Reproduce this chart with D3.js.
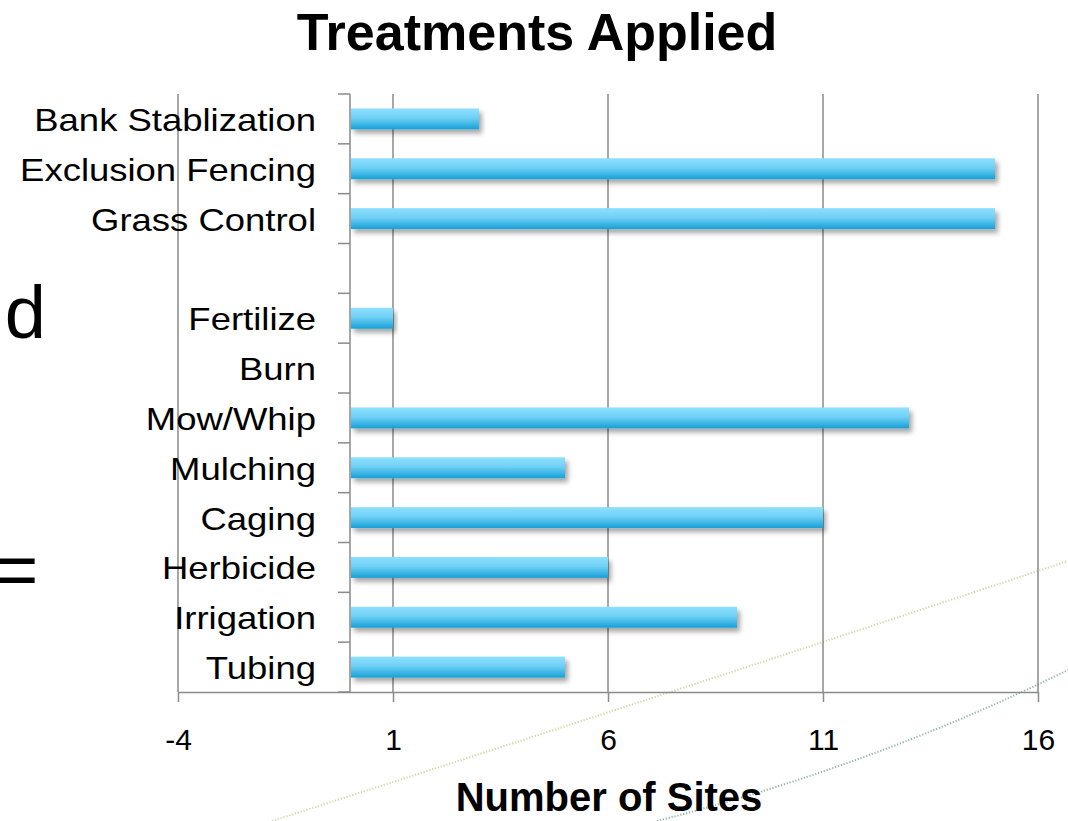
<!DOCTYPE html>
<html>
<head>
<meta charset="utf-8">
<script src="https://cdn.jsdelivr.net/npm/d3@7"></script>
<style>
  html, body { margin: 0; padding: 0; background: #fff; }
  svg { display: block; font-family: "Liberation Sans", Arial, sans-serif; }
</style>
</head>
<body>
<div id="chart"></div>
<script>
// categories top to bottom ("" is an empty slot in the original)
const categories = ["Bank Stablization", "Exclusion Fencing", "Grass Control", "",
    "Fertilize", "Burn", "Mow/Whip", "Mulching", "Caging", "Herbicide", "Irrigation", "Tubing"];
const sites = [3, 15, 15, 0, 1, 0, 13, 5, 11, 6, 9, 5];
const xTicks = [-4, 1, 6, 11, 16];

const width = 1068, height = 821;
const plot = {left: 178, right: 1038, top: 94, bottom: 692};

const svg = d3.select("#chart").append("svg")
    .attr("width", width)
    .attr("height", height);

// gradient + shadow for the bars
const defs = svg.append("defs");
const grad = defs.append("linearGradient")
    .attr("id", "barGrad")
    .attr("x1", 0).attr("y1", 0).attr("x2", 0).attr("y2", 1);
grad.append("stop").attr("offset", "0%").attr("stop-color", "#8fe0ff");
grad.append("stop").attr("offset", "45%").attr("stop-color", "#6fd0f6");
grad.append("stop").attr("offset", "100%").attr("stop-color", "#16a0d6");
const shadow = defs.append("filter")
    .attr("id", "shadow")
    .attr("x", "-5%").attr("y", "-50%").attr("width", "115%").attr("height", "220%");
shadow.append("feDropShadow")
    .attr("dx", 3).attr("dy", 4)
    .attr("stdDeviation", 2.5)
    .attr("flood-color", "#000")
    .attr("flood-opacity", 0.35);

// background slide bits peeking through
svg.append("text")
    .attr("x", 46).attr("y", 338)
    .attr("text-anchor", "end")
    .attr("font-size", 74)
    .attr("fill", "#000")
    .text("d");
svg.append("text")
    .attr("x", -6).attr("y", 596)
    .attr("font-size", 76)
    .attr("fill", "#000")
    .text("=");

// decorative dotted swooshes
svg.append("path")
    .attr("d", "M272,821 Q680,690 1068,561")
    .attr("fill", "none")
    .attr("stroke", "#cfd6a6")
    .attr("stroke-width", 2)
    .attr("stroke-dasharray", "1.2,1.8");
svg.append("path")
    .attr("d", "M657,821 Q875,765 1068,670")
    .attr("fill", "none")
    .attr("stroke", "#93b3aa")
    .attr("stroke-width", 2)
    .attr("stroke-dasharray", "1.2,1.8");

// scales
let x = d3.scaleLinear()
    .domain([-4, 16])
    .range([plot.left, plot.right]);

let yAxisScale = d3.scaleBand()
    .domain(categories)
    .range([plot.top, plot.bottom])
    .padding(0);

let y = d3.scaleBand()
    .domain(categories)
    .range([plot.top, plot.bottom])
    .paddingInner(0.58)
    .paddingOuter(0.29);

const gridColor = "#8a8a8a";

// vertical gridlines
svg.append("g")
    .selectAll("line")
    .data(xTicks)
    .join("line")
    .attr("x1", d => x(d)).attr("x2", d => x(d))
    .attr("y1", plot.top).attr("y2", plot.bottom)
    .attr("stroke", gridColor)
    .attr("stroke-width", 1.5);

// x axis
let xAxis = svg.append("g")
    .attr("transform", "translate(0," + plot.bottom + ")")
    .call(d3.axisBottom(x).tickValues(xTicks).tickFormat(d => String(d)).tickSize(10).tickSizeOuter(0));
xAxis.select(".domain").attr("stroke", gridColor).attr("stroke-width", 1.5);
xAxis.selectAll(".tick line").attr("stroke", gridColor).attr("stroke-width", 1.5);
xAxis.selectAll(".tick text")
    .attr("y", 58).attr("dy", 0)
    .attr("font-size", 30)
    .attr("font-family", "Liberation Sans, Arial, sans-serif")
    .attr("fill", "#000");

// y axis line + boundary ticks
const x0 = x(0);
svg.append("line")
    .attr("x1", x0).attr("x2", x0)
    .attr("y1", plot.top).attr("y2", plot.bottom)
    .attr("stroke", gridColor)
    .attr("stroke-width", 1.5);
const bounds = categories.map(d => yAxisScale(d)).concat([plot.bottom]);
svg.append("g")
    .selectAll("line")
    .data(bounds)
    .join("line")
    .attr("x1", x0 - 12).attr("x2", x0)
    .attr("y1", d => d).attr("y2", d => d)
    .attr("stroke", gridColor)
    .attr("stroke-width", 1.5);

// category labels (slightly wide, like the original)
svg.append("g")
    .selectAll("text")
    .data(categories)
    .join("text")
    .attr("transform", d => "translate(316," + (yAxisScale(d) + yAxisScale.bandwidth() / 2 + 12) + ") scale(1.14,1)")
    .attr("text-anchor", "end")
    .attr("font-size", 32)
    .attr("fill", "#000")
    .text(d => d);

// bars
const rows = categories.map((c, i) => ({cat: c, value: sites[i]})).filter(d => d.value > 0);
svg.append("g")
    .selectAll("rect")
    .data(rows)
    .join("rect")
    .attr("x", x0 + 1)
    .attr("y", d => y(d.cat))
    .attr("width", d => x(d.value) - x0 - 1)
    .attr("height", y.bandwidth())
    .attr("fill", "url(#barGrad)")
    .attr("filter", "url(#shadow)");

// titles
svg.append("text")
    .attr("x", 537).attr("y", 50)
    .attr("text-anchor", "middle")
    .attr("font-size", 52)
    .attr("font-weight", "bold")
    .attr("fill", "#000")
    .text("Treatments Applied");

svg.append("text")
    .attr("x", 609).attr("y", 811)
    .attr("text-anchor", "middle")
    .attr("font-size", 40)
    .attr("font-weight", "bold")
    .attr("fill", "#000")
    .text("Number of Sites");
</script>
</body>
</html>
